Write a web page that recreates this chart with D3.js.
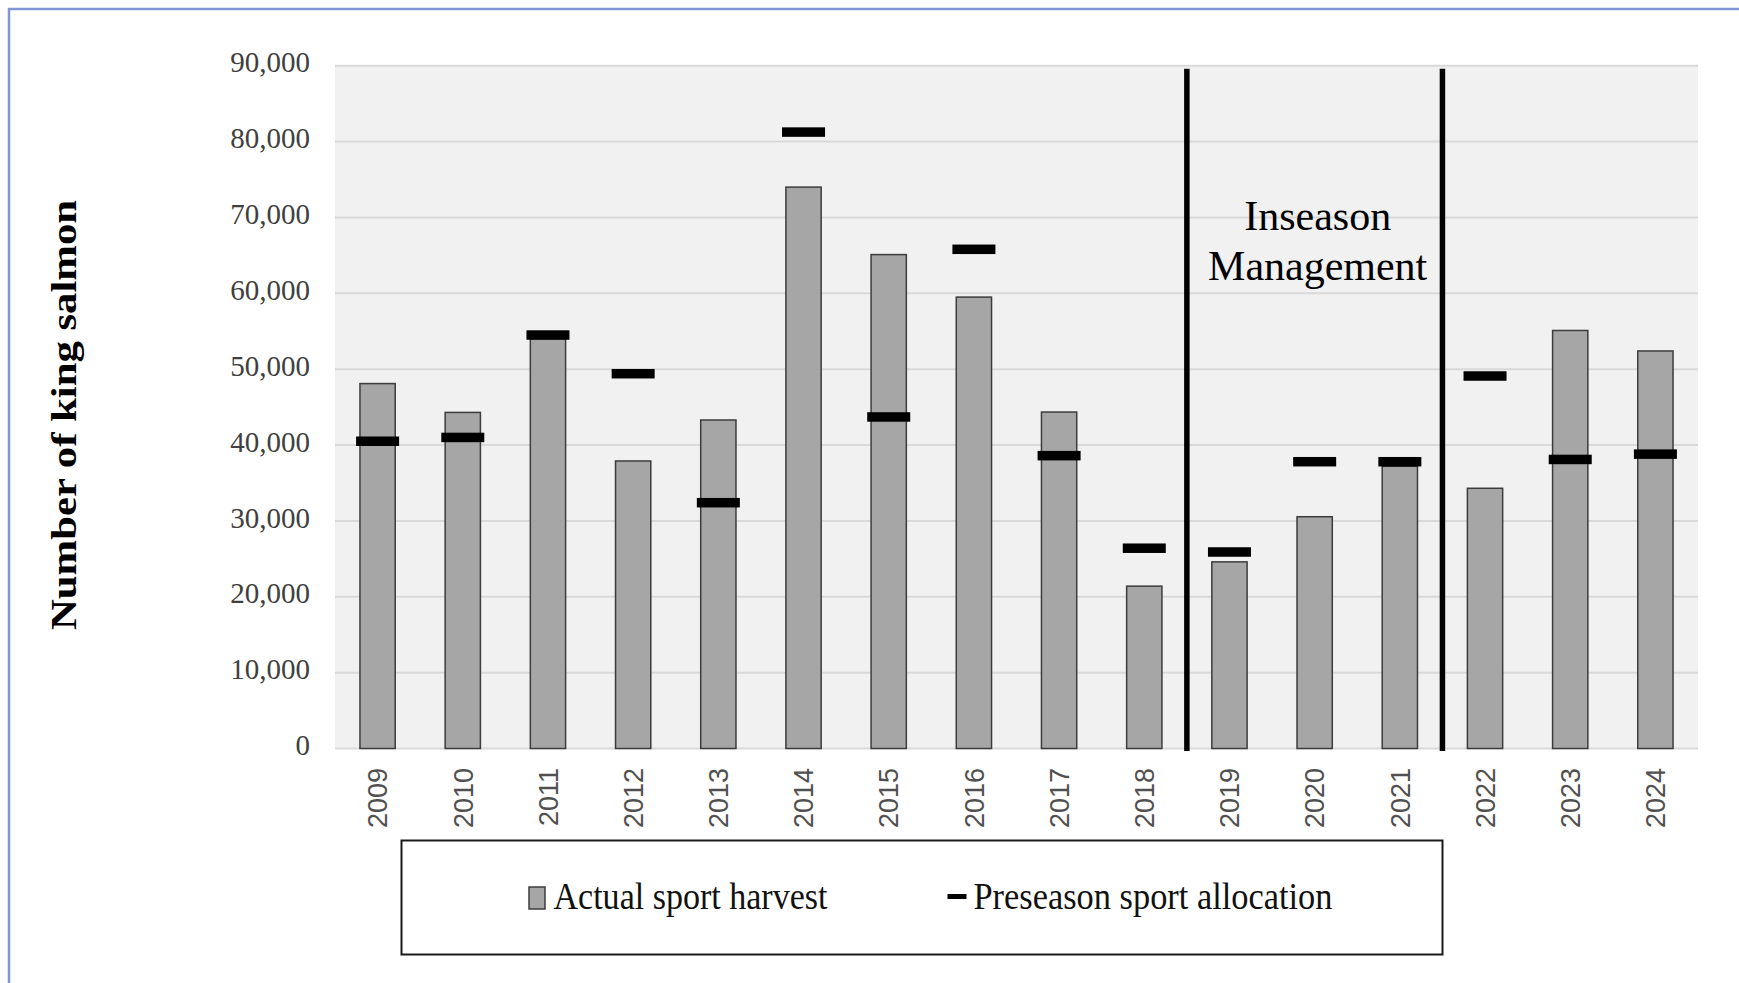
<!DOCTYPE html>
<html>
<head>
<meta charset="utf-8">
<script src="https://cdn.jsdelivr.net/npm/d3@7"></script>
<style>
  html, body { margin: 0; padding: 0; background: #fff; }
  svg { display: block; }
</style>
</head>
<body>
<svg id="chart" width="1739" height="983"></svg>
<script>
// ---- data ----
const years = ["2009","2010","2011","2012","2013","2014","2015","2016","2017","2018","2019","2020","2021","2022","2023","2024"];
const actualHarvest = [48100, 44300, 54000, 37900, 43300, 74000, 65100, 59500, 44350, 21400, 24600, 30550, 37200, 34300, 55100, 52400];
const preseasonAllocation = [40500, 41000, 54500, 49400, 32400, 81250, 43700, 65800, 38600, 26400, 25900, 37800, 37800, 49100, 38100, 38800];
const yTicks = [0, 10000, 20000, 30000, 40000, 50000, 60000, 70000, 80000, 90000];
const separatorYears = ["2019", "2022"];
const annotationLines = ["Inseason", "Management"];
const legendLabels = ["Actual sport harvest", "Preseason sport allocation"];
const yTitle = "Number of king salmon";

// ---- layout ----
const svg = d3.select("#chart");
const plot = { left: 335, right: 1698, top: 65.7, bottom: 748.5 };

const x = d3.scaleBand().domain(years).range([plot.left, plot.right])
  .paddingInner(0.586).paddingOuter(0.293);
const y = d3.scaleLinear().domain([0, 90000]).range([plot.bottom, plot.top]);

// page frame (top + left only)
svg.append("path")
  .attr("d", `M9,990 L9,9 L1745,9`)
  .attr("fill", "none").attr("stroke", "#8296d6").attr("stroke-width", 2.5);

// plot background
svg.append("rect")
  .attr("x", plot.left).attr("y", plot.top)
  .attr("width", plot.right - plot.left).attr("height", plot.bottom - plot.top)
  .attr("fill", "#f1f1f1");

// gridlines
svg.append("g").selectAll("line").data(yTicks).join("line")
  .attr("x1", plot.left).attr("x2", plot.right)
  .attr("y1", d => y(d)).attr("y2", d => y(d))
  .attr("stroke", "#d9d9d9").attr("stroke-width", 2);

// y axis labels
const yAxis = d3.axisLeft(y).tickValues(yTicks).tickFormat(d3.format(",")).tickSize(0).tickPadding(0);
const yg = svg.append("g").attr("transform", `translate(310,0)`).call(yAxis);
yg.select(".domain").remove();
yg.selectAll("text")
  .attr("font-family", "'Liberation Serif', 'Times New Roman', serif")
  .attr("font-size", 29).attr("fill", "#404040")
  .attr("dy", "0.28em").attr("y", -2);

// y title
svg.append("text")
  .attr("transform", `translate(76,415) rotate(-90)`)
  .attr("text-anchor", "middle")
  .attr("font-family", "'Liberation Serif', 'Times New Roman', serif")
  .attr("font-weight", "bold").attr("font-size", 36).attr("fill", "#000")
  .attr("textLength", 430).attr("lengthAdjust", "spacingAndGlyphs")
  .text(yTitle);

// x axis labels
const xAxis = d3.axisBottom(x).tickSize(0).tickPadding(0);
const xg = svg.append("g").attr("transform", `translate(0,${plot.bottom})`).call(xAxis);
xg.select(".domain").remove();
xg.selectAll("text")
  .attr("font-family", "'Liberation Sans', Arial, sans-serif")
  .attr("font-size", 27).attr("fill", "#505050")
  .attr("text-anchor", "end")
  .attr("transform", "rotate(-90)")
  .attr("x", -19.5).attr("y", 0).attr("dy", "0.36em");

// bars
svg.append("g").selectAll("rect").data(years).join("rect")
  .attr("x", d => x(d)).attr("width", x.bandwidth())
  .attr("y", (d, i) => y(actualHarvest[i]))
  .attr("height", (d, i) => y(0) - y(actualHarvest[i]))
  .attr("fill", "#a6a6a6").attr("stroke", "#3c3c3c").attr("stroke-width", 1.5);

// allocation markers
const mW = 43, mH = 9.5;
svg.append("g").selectAll("rect").data(years).join("rect")
  .attr("x", d => x(d) + x.bandwidth() / 2 - mW / 2).attr("width", mW)
  .attr("y", (d, i) => y(preseasonAllocation[i]) - mH / 2).attr("height", mH)
  .attr("fill", "#000");

// separators
const sepX = d => x(d) - x.step() * x.paddingInner() / 2;
svg.append("g").selectAll("line").data(separatorYears).join("line")
  .attr("x1", sepX).attr("x2", sepX)
  .attr("y1", plot.top + 3).attr("y2", plot.bottom + 2.5)
  .attr("stroke", "#000").attr("stroke-width", 5.5);

// annotation
const annX = (sepX(separatorYears[0]) + sepX(separatorYears[1])) / 2 + 3;
svg.append("text")
  .attr("font-family", "'Liberation Serif', 'Times New Roman', serif")
  .attr("font-size", 42).attr("fill", "#000").attr("text-anchor", "middle")
  .selectAll("tspan").data(annotationLines).join("tspan")
  .attr("x", annX).attr("y", (d, i) => 230 + i * 50)
  .text(d => d);

// legend
const lg = svg.append("g");
lg.append("rect").attr("x", 401.5).attr("y", 840.5).attr("width", 1041).attr("height", 114)
  .attr("fill", "#fff").attr("stroke", "#1a1a1a").attr("stroke-width", 2);
lg.append("rect").attr("x", 529).attr("y", 887).attr("width", 16).attr("height", 22)
  .attr("fill", "#a6a6a6").attr("stroke", "#3c3c3c").attr("stroke-width", 1.5);
lg.append("text").attr("x", 553.5).attr("y", 909)
  .attr("font-family", "'Liberation Serif', 'Times New Roman', serif")
  .attr("font-size", 37).attr("fill", "#111")
  .attr("textLength", 274).attr("lengthAdjust", "spacingAndGlyphs")
  .text(legendLabels[0]);
lg.append("rect").attr("x", 947.5).attr("y", 894).attr("width", 19).attr("height", 5)
  .attr("fill", "#000");
lg.append("text").attr("x", 973.5).attr("y", 909)
  .attr("font-family", "'Liberation Serif', 'Times New Roman', serif")
  .attr("font-size", 37).attr("fill", "#111")
  .attr("textLength", 359).attr("lengthAdjust", "spacingAndGlyphs")
  .text(legendLabels[1]);
</script>
</body>
</html>
